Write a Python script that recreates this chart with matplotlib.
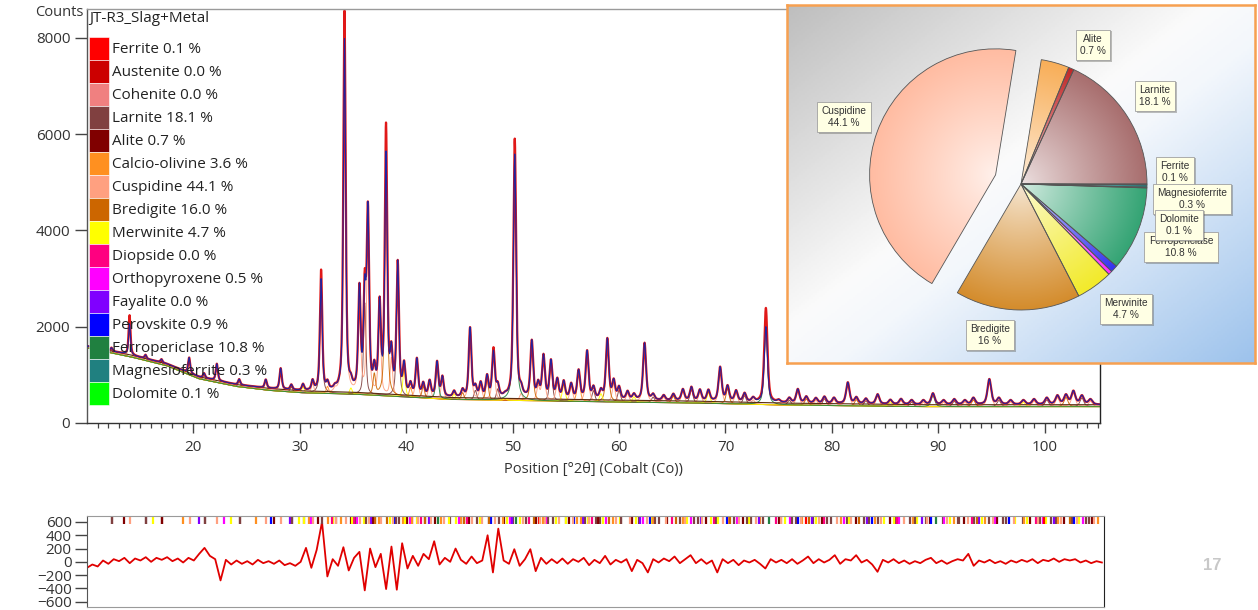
import numpy as np
import matplotlib
matplotlib.use("Agg")
import matplotlib.pyplot as plt
from matplotlib.patches import Patch
from matplotlib.colors import LinearSegmentedColormap, to_rgb
from matplotlib import patheffects as pe

plt.rcParams["font.family"] = ["Open Sans", "DejaVu Sans"]

# ---------------- phases (legend order) ----------------
sample_name = "JT-R3_Slag+Metal"
phase_names = ["Ferrite", "Austenite", "Cohenite", "Larnite", "Alite", "Calcio-olivine",
               "Cuspidine", "Bredigite", "Merwinite", "Diopside", "Orthopyroxene",
               "Fayalite", "Perovskite", "Ferropericlase", "Magnesioferrite", "Dolomite"]
phase_pct = [0.1, 0.0, 0.0, 18.1, 0.7, 3.6, 44.1, 16.0, 4.7, 0.0, 0.5, 0.0, 0.9, 10.8, 0.3, 0.1]
phase_colors = ["#FF0000", "#CC0000", "#F08080", "#804040", "#800000", "#FF9020",
                "#FFA080", "#CC6600", "#FFFF00", "#FF0080", "#FF00FF", "#8000FF",
                "#0000FF", "#208040", "#208080", "#00FF00"]

# ---------------- background of the scan ----------------
bg_pos = [10, 14, 17.5, 20.5, 24, 27, 30, 35, 44, 58, 66, 75, 88, 105.2]
bg_val = [1600, 1420, 1230, 960, 800, 720, 670, 640, 530, 480, 460, 415, 380, 380]

# ---------------- fitted reflections: position, net height, phase index ----------------
peak_pos = [12.3, 14.0, 15.5, 17.0, 19.6, 21.0, 22.2, 24.3, 26.8, 28.2,
            29.2, 30.3, 31.2, 32.0, 32.6, 33.3, 34.2, 34.8, 35.6, 36.1,
            36.4, 37.0, 37.5, 38.1, 38.6, 39.2, 39.8, 40.4, 41.0, 41.6,
            42.2, 42.9, 43.4, 44.5, 45.3, 46.0, 46.5, 47.0, 47.6, 48.2,
            48.6, 49.3, 50.2, 50.8, 51.8, 52.4, 52.9, 53.6, 54.2, 54.8,
            55.5, 56.2, 57.0, 57.6, 58.3, 58.9, 59.5, 60.0, 60.8, 61.4,
            62.4, 63.2, 64.2, 65.1, 66.0, 66.8, 67.6, 68.4, 69.5, 70.2,
            71.0, 71.8, 72.6, 73.8, 75.0, 76.0, 76.8, 77.6, 78.5, 79.3,
            80.2, 81.5, 82.3, 83.2, 84.3, 85.5, 86.5, 87.5, 88.6, 89.5,
            90.5, 91.5, 92.5, 93.3, 94.8, 95.7, 96.8, 98.0, 99.0, 100.2,
            101.2, 102.0, 102.7, 103.5, 104.3]
peak_net = [70, 640, 80, 70, 320, 100, 350, 120, 180, 440,
            120, 150, 250, 2340, 250, 180, 7340, 400, 2280, 2450,
            3980, 700, 2020, 5050, 1100, 2800, 720, 300, 790, 300,
            350, 750, 450, 150, 200, 1470, 300, 350, 500, 1000,
            350, 150, 5080, 350, 1230, 400, 940, 830, 450, 400,
            350, 630, 1030, 300, 250, 1290, 450, 300, 200, 150,
            1200, 150, 120, 150, 250, 300, 250, 250, 730, 350,
            250, 200, 120, 1580, 80, 120, 300, 150, 120, 150,
            130, 450, 150, 120, 210, 100, 120, 100, 100, 240,
            100, 120, 100, 150, 535, 150, 100, 100, 120, 150,
            200, 220, 295, 200, 120]
peak_phase = [3, 6, 3, 4, 6, 3, 6, 3, 6, 6,
              3, 8, 6, 3, 5, 6, 6, 8, 6, 3,
              6, 7, 6, 7, 6, 3, 8, 5, 6, 7,
              6, 13, 6, 8, 7, 6, 3, 6, 7, 6,
              3, 8, 13, 6, 7, 6, 6, 3, 6, 8,
              6, 5, 6, 3, 8, 7, 6, 3, 6, 8,
              6, 3, 6, 7, 6, 3, 6, 8, 6, 7,
              6, 3, 6, 13, 6, 3, 6, 7, 6, 3,
              6, 6, 7, 3, 6, 8, 6, 3, 6, 13,
              6, 3, 6, 7, 6, 3, 6, 8, 6, 3,
              6, 7, 6, 3, 6]

# observed counts that exceed the calculated profile at peak tops
obs_excess_pos = [14.0, 32.0, 34.2, 36.1, 38.1, 48.2, 50.2, 73.8]
obs_excess_val = [180, 190, 580, 120, 590, 60, 320, 390]

# ---------------- difference plot (observed - calculated), 0.5 deg steps from 10 deg ----------------
resid_start, resid_step = 10.0, 0.5
resid_vals = [-90, -40, -70, 20, -30, 40, 10, 60, -20, 50,
              20, 70, 0, 60, 30, 70, 10, 50, -10, 60,
              20, 120, 210, 90, 40, -280, 30, -40, 20, -30,
              10, -40, 30, -20, 10, -30, 20, -50, -20, -60,
              0, 210, -90, 180, 600, -220, 40, -60, 220, -130,
              60, 150, -430, 200, -80, 120, -410, 230, -420, 280,
              -100, 90, -60, 120, 40, 310, -40, 60, 0, 200,
              30, -30, 80, -20, 20, 400, -160, 500, 20, -30,
              190, -60, 40, 190, -140, 60, -30, 40, -20, 50,
              -30, 40, 0, 60, -50, 30, -20, 90, -40, 30,
              -10, 40, -140, 30, -20, -160, 40, -10, 50, 10,
              80, -20, 40, 100, -20, 40, -30, 20, -160, 40,
              -20, 30, -50, 20, -10, 30, -30, -100, 40, -10,
              30, -20, 40, -30, 20, 80, -20, 40, -10, 30,
              100, -30, 40, 20, 100, -10, 30, -40, -150, 30,
              -10, 40, -20, 20, -30, 10, -20, 30, 60, -20,
              20, -30, 10, 40, 20, 120, -60, 20, -10, 30,
              -20, 10, -30, 20, -10, 30, 0, 40, -20, 30,
              10, 50, 0, 40, 20, 40, -10, 20, -20, 10,
              -10]

# ---------------- additional reference reflection positions per phase ----------------
larnite_refl = [12.3, 15.5, 21.0, 24.3, 29.2, 30.3, 33.3, 35.2, 37.0, 38.9, 40.4, 41.6, 44.0,
                45.3, 47.6, 49.9, 51.1, 53.2, 54.8, 56.6, 58.0, 60.0, 61.7, 63.5, 65.5, 67.2,
                68.9, 70.6, 72.2, 73.3, 75.0, 76.4, 78.0, 79.6, 81.1, 82.7, 84.0, 85.6, 87.0,
                88.5, 90.1, 91.6, 93.0, 94.4, 96.0, 97.6, 99.2, 100.7, 102.2, 103.8]
alite_refl = [13.5, 17.0, 27.5, 31.6, 34.7, 36.8, 40.0, 42.6, 45.8, 49.0, 52.0, 55.1, 57.8,
              61.0, 64.3, 67.9, 71.4, 74.8, 78.8, 82.0, 85.2, 88.9, 92.1, 95.2, 98.3, 101.5, 104.1]
merwinite_refl = [16.2, 23.5, 29.8, 33.0, 35.9, 38.4, 40.9, 43.9, 46.8, 50.5, 53.9, 56.9, 59.9,
                  62.9, 66.2, 69.1, 72.0, 75.3, 78.2, 81.3, 84.6, 87.7, 90.8, 93.8, 96.9, 99.8, 102.9]
calcio_olivine_refl = [19.0, 25.8, 30.8, 33.8, 37.3, 39.6, 43.1, 45.0, 48.9, 52.7, 55.9, 59.2,
                       63.0, 65.8, 70.0, 73.0, 76.9, 80.6, 83.8, 87.3, 91.2, 94.1, 97.7, 100.9, 104.6]
orthopyroxene_refl = [22.8, 31.0, 35.3, 40.2, 44.8, 49.6, 53.0, 58.6, 62.0, 66.5, 70.8, 75.8,
                      80.9, 86.0, 90.2, 95.0, 99.5, 103.2]
perovskite_refl = [27.2, 38.7, 47.8, 55.6, 62.7, 69.9, 76.6, 83.5, 89.0, 96.3, 102.4]
diopside_refl = [32.9, 35.0, 41.3, 45.6, 51.4, 57.3, 64.8, 68.7, 74.5, 79.0, 85.8, 92.8, 98.8]
fayalite_refl = [20.5, 29.0, 36.6, 42.0, 49.8, 56.4, 61.8, 67.5, 72.9, 77.9, 83.0, 88.2, 93.5, 100.5]
ferrite_refl = [52.3, 77.3, 99.6]

# ---------------- quantification pie ----------------
pie_names = ["Larnite", "Alite", "Calcio-olivine", "Cuspidine", "Bredigite", "Merwinite",
             "Orthopyroxene", "Perovskite", "Ferropericlase", "Dolomite", "Magnesioferrite", "Ferrite"]
pie_vals = [18.1, 0.7, 3.6, 44.1, 16, 4.7, 0.5, 0.9, 10.8, 0.1, 0.3, 0.1]
pie_colors = ["#A86E6E", "#C02828", "#F8AE58", "#FFBCA2", "#D48C2C", "#F2EA2A",
              "#FF30FF", "#3434F0", "#34A474", "#20C020", "#208080", "#303030"]
pie_labelled = ["Alite", "Larnite", "Cuspidine", "Ferrite", "Magnesioferrite",
                "Ferropericlase", "Dolomite", "Merwinite", "Bredigite"]
pie_label_xy = [(306, 318), (368, 267), (57, 246), (388, 191), (405, 164),
                (394, 116), (392, 138), (339, 54), (203, 28)]

# ================================================================
x = np.arange(10.0, 105.2, 0.01)
bg = np.interp(x, bg_pos, bg_val)
pp = np.array(peak_pos)
fwhm = 0.2 + 0.0025 * (pp - 10)


def shape(xx, p, w):
    d = (xx - p) / w
    return 0.4 * np.exp(-4 * np.log(2) * d ** 2) + 0.6 / (1 + 4 * d ** 2)


# heights such that the summed profile reaches the read net heights
A = np.array([[shape(pi, pj, wj) for pj, wj in zip(pp, fwhm)] for pi in pp])
h_calc = np.clip(np.linalg.solve(A, np.array(peak_net, float)), 0, None)
net_obs = np.array(peak_net, float)
for p, v in zip(obs_excess_pos, obs_excess_val):
    net_obs[np.argmin(np.abs(pp - p))] += v
h_obs = np.clip(np.linalg.solve(A, net_obs), 0, None)

S = np.array([shape(x, p, w) for p, w in zip(pp, fwhm)])
calc = bg + h_calc @ S
obs = bg + h_obs @ S

fig = plt.figure(figsize=(12.58, 6.10), dpi=100)
W, H = 1258, 610
ax = fig.add_axes([87 / W, 1 - 423 / H, (1100 - 87) / W, (423 - 9) / H])
rax = fig.add_axes([87 / W, 1 - 607 / H, (1104 - 87) / W, (607 - 516) / H])
pax = fig.add_axes([787 / W, 1 - 363 / H, 468 / W, 358 / H], zorder=10)

# individual phase contributions
phase_arr = np.array(peak_phase)
for k in sorted(set(peak_phase)):
    sel = phase_arr == k
    ax.plot(x, bg - 40 + h_calc[sel] @ S[sel], color=phase_colors[k], lw=0.7, alpha=0.9, zorder=1)
ax.plot(x, bg, color="#5A2A10", lw=0.8, zorder=1.5)
ax.plot(x, obs, color="#E01818", lw=1.6, zorder=2)
ax.plot(x, calc, color="#22229E", lw=0.8, zorder=3)

ax.set_xlim(10, 105.2)
ax.set_ylim(0, 8600)
ax.set_yticks([0, 2000, 4000, 6000, 8000])
ax.set_xticks(np.arange(20, 101, 10))
ax.set_xticks(np.arange(11, 106, 1), minor=True)
ax.tick_params(axis="y", length=9, width=1, color="#444444", labelsize=11, labelcolor="#333333", pad=3)
ax.tick_params(axis="x", which="major", length=7, width=1, color="#444444", labelsize=11,
               labelcolor="#333333", pad=5)
ax.tick_params(axis="x", which="minor", length=3.5, width=0.9, color="#444444")
ax.set_xlabel("Position [°2θ] (Cobalt (Co))", fontsize=10.5, color="#333333", labelpad=5)
for side, col in [("left", "#555555"), ("bottom", "#333333"), ("top", "#9A9A9A"), ("right", "#222222")]:
    ax.spines[side].set_color(col)
    ax.spines[side].set_linewidth(1.0)
fig.text(35 / W, 1 - 12 / H, "Counts", fontsize=10.5, color="#333333", ha="left", va="center")

handles = [Patch(facecolor=c, edgecolor="white", linewidth=0.4) for c in phase_colors]
labels = [f"{n} {v:.1f} %" for n, v in zip(phase_names, phase_pct)]
leg = ax.legend(handles, labels, title=sample_name, loc="upper left", bbox_to_anchor=(0.0, 1.0),
                frameon=False, fontsize=11, title_fontsize=11, handlelength=1.31, handleheight=1.94,
                labelspacing=0.0, handletextpad=0.2, borderaxespad=0.0, borderpad=0.12,
                alignment="left")
leg._legend_box.sep = 8
for t in leg.get_texts():
    t.set_color("#222222")
leg.get_title().set_color("#222222")

# ---------------- difference plot ----------------
rx = resid_start + resid_step * np.arange(len(resid_vals))
rax.plot(rx, resid_vals, color="#E00000", lw=1.3)
refl_sets = [(larnite_refl, 3), (alite_refl, 4), (merwinite_refl, 8), (calcio_olivine_refl, 5),
             (orthopyroxene_refl, 10), (perovskite_refl, 12), (diopside_refl, 9),
             (fayalite_refl, 11), (ferrite_refl, 0)]
for k in sorted(set(peak_phase)):
    refl_sets.append(([p for p, q in zip(peak_pos, peak_phase) if q == k], k))
for pos, k in refl_sets:
    rax.vlines(pos, 575, 690, colors=phase_colors[k], lw=1.6)
rax.set_xlim(10, 105.2)
rax.set_ylim(-680, 690)
rax.set_yticks(np.arange(-600, 601, 200))
rax.set_xticks([])
rax.tick_params(axis="y", length=9, width=1, color="#444444", labelsize=11, labelcolor="#333333", pad=2)
for side, col in [("left", "#555555"), ("bottom", "#9A9A9A"), ("top", "#9A9A9A"), ("right", "#222222")]:
    rax.spines[side].set_color(col)

# ---------------- pie inset ----------------
PW, PH = 468, 358
gy, gx = np.mgrid[0:PH:2, 0:PW:2]
tgrad = (gx / PW + gy / PH) / 2.0
bg_cmap = LinearSegmentedColormap.from_list(
    "panel", [(0, "#BEBEBE"), (0.45, "#FBFBFB"), (0.55, "#F3F7FC"), (1, "#9CC2EC")])
pax.imshow(bg_cmap(tgrad), extent=(0, PW, 0, PH), origin="upper", aspect="auto", zorder=0)

explode = [27 if n == "Cuspidine" else 0 for n in pie_names]
wedges, _ = pax.pie(pie_vals, colors=pie_colors, startangle=0, counterclock=True, radius=126,
                    center=(234, 179), explode=explode, frame=True,
                    wedgeprops=dict(edgecolor="#555555", linewidth=0.6))
g = np.linspace(-1, 1, 240)
ggx, ggy = np.meshgrid(g, g)
rr = np.clip(np.hypot(ggx, ggy), 0, 1)[..., None]
for w, base in zip(wedges, pie_colors):
    b = np.array(to_rgb(base))
    light = b + (1 - b) * 0.8
    rgb = light * (1 - rr ** 0.9) + b * rr ** 0.9
    cx, cy = w.center
    r = w.r
    im = pax.imshow(rgb, extent=(cx - r, cx + r, cy - r, cy + r), origin="lower",
                    aspect="auto", zorder=2, interpolation="bilinear")
    im.set_clip_path(w)
    w.set_facecolor("none")
    w.set_zorder(3)

for name, (lx, ly) in zip(pie_labelled, pie_label_xy):
    v = pie_vals[pie_names.index(name)]
    t = pax.text(lx, ly, f"{name}\n{v:g} %", ha="center", va="center", fontsize=7.3,
                 family=["Liberation Sans", "DejaVu Sans"], color="#333333", linespacing=1.25,
                 zorder=6, bbox=dict(boxstyle="square,pad=0.42", fc="#FFFFE4", ec="#A0A0A0", lw=0.6))
    t.get_bbox_patch().set_path_effects([pe.SimplePatchShadow(offset=(1.2, -1.2), alpha=0.35),
                                         pe.Normal()])

pax.set_xlim(0, PW)
pax.set_ylim(0, PH)
pax.set_aspect("auto")
pax.set_xticks([])
pax.set_yticks([])
pax.set_axis_on()
for s in pax.spines.values():
    s.set_color("#F7A050")
    s.set_linewidth(1.8)

fig.text(1212 / W, 1 - 566 / H, "17", fontsize=12, fontweight="bold", color="#C8C8C8",
         ha="center", va="center", family=["Liberation Sans", "DejaVu Sans"])

fig.savefig("out.png", dpi=100)
